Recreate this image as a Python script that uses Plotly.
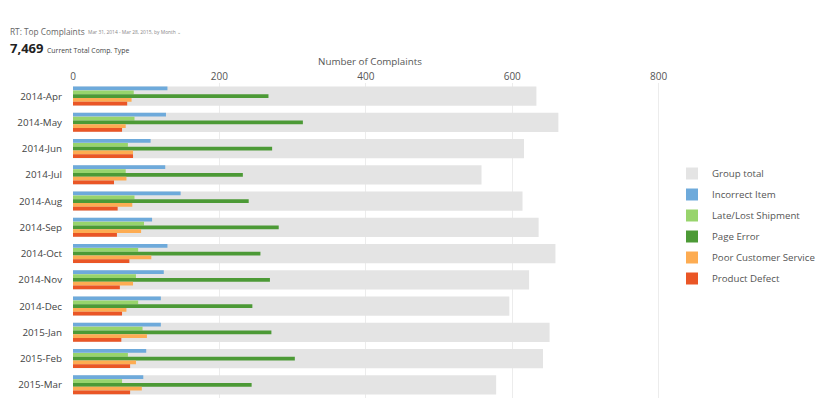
import plotly.graph_objects as go

months = ["2014-Apr", "2014-May", "2014-Jun", "2014-Jul", "2014-Aug", "2014-Sep",
          "2014-Oct", "2014-Nov", "2014-Dec", "2015-Jan", "2015-Feb", "2015-Mar"]

incorrect_item = [129, 127, 106, 126, 147, 108, 129, 124, 120, 120, 100, 96]
late_lost_shipment = [83, 84, 75, 72, 84, 97, 89, 86, 89, 95, 75, 67]
page_error = [267, 314, 272, 232, 240, 281, 256, 269, 245, 271, 303, 244]
poor_customer_service = [80, 72, 82, 73, 81, 93, 107, 82, 73, 101, 86, 94]
product_defect = [74, 67, 82, 56, 61, 60, 77, 64, 67, 66, 78, 78]

group_total = [633, 663, 616, 558, 614, 636, 659, 623, 596, 651, 642, 578]

series = [
    ("Incorrect Item", incorrect_item, "#6eaadb"),
    ("Late/Lost Shipment", late_lost_shipment, "#98d46c"),
    ("Page Error", page_error, "#4c9a36"),
    ("Poor Customer Service", poor_customer_service, "#fdac52"),
    ("Product Defect", product_defect, "#ea5626"),
]

band = 0.726
sub = band / len(series)

fig = go.Figure()
fig.add_trace(go.Bar(
    y=months, x=group_total, orientation="h", name="Group total",
    marker=dict(color="#e4e4e4", line=dict(width=0)),
    width=band, offset=-band / 2, legendgroup="g0",
))
for i, (name, vals, color) in enumerate(series):
    fig.add_trace(go.Bar(
        y=months, x=vals, orientation="h", name=name,
        marker=dict(color=color, line=dict(width=0)),
        width=sub * 0.98, offset=-band / 2 + i * sub, legendgroup=f"g{i+1}",
    ))

L, R, T, B = 73, 154, 83, 22
pw = 820 - L - R
ph = 420 - T - B

fig.update_layout(
    width=820, height=420,
    margin=dict(l=L, r=R, t=T, b=B, autoexpand=False),
    barmode="overlay",
    plot_bgcolor="white", paper_bgcolor="white",
    font=dict(family="Open Sans, sans-serif", color="#555"),
    showlegend=True,
    legend=dict(
        x=(672 - L) / pw, y=1 + (T - 159) / ph, xanchor="left", yanchor="top",
        font=dict(size=9.7, color="#555"),
        bgcolor="rgba(0,0,0,0)", tracegroupgap=2,
    ),
    xaxis=dict(
        side="top", range=[0, 810], automargin=False,
        tickvals=[0, 200, 400, 600, 800],
        showgrid=True, gridcolor="#ececec", gridwidth=1,
        zeroline=False, showline=False,
        tickfont=dict(size=10, color="#555"),
        ticks="",
    ),
    yaxis=dict(
        type="category", autorange="reversed", automargin=False,
        tickfont=dict(size=9.8, color="#444"),
        showgrid=False, zeroline=False, showline=False,
        ticks="outside", ticklen=8, tickcolor="rgba(0,0,0,0)",
    ),
)

texts = [
    ("RT: Top Complaints", 9, 32, 8.3, "#666", False),
    ("Mar 31, 2014 - Mar 28, 2015, by Month \u2304", 87, 32.5, 4.9, "#888", False),
    ("7,469", 9, 48.5, 13, "#222", True),
    ("Current Total Comp. Type", 46, 50.5, 6.9, "#444", False),
    ("Number of Complaints", (L + 666) / 2, 61, 9.8, "#555", False),
]
for text, px, py, size, color, bold in texts:
    centered = text == "Number of Complaints"
    fig.add_annotation(
        text=f"<b>{text}</b>" if bold else text,
        x=(px - L) / pw, y=1 + (T - py) / ph, xref="paper", yref="paper",
        showarrow=False, xanchor="center" if centered else "left", yanchor="middle",
        font=dict(size=size, color=color), borderpad=0,
    )

fig.write_html("out.html", config={"displayModeBar": False},
               post_script="document.body.style.margin='0';")
